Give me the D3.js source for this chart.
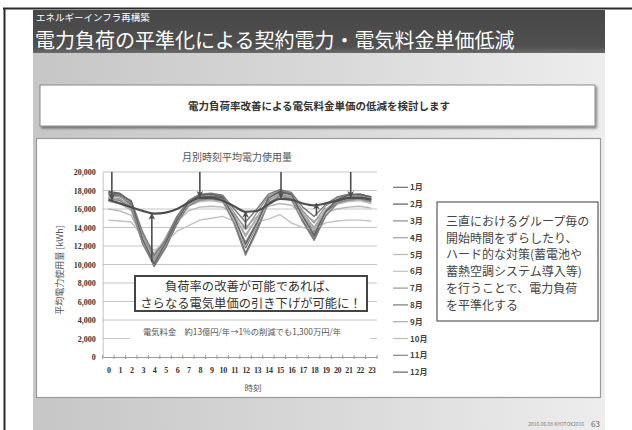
<!DOCTYPE html>
<html>
<head>
<meta charset="utf-8">
<script src="https://cdn.jsdelivr.net/npm/d3@7/dist/d3.min.js"></script>
<style>
  html, body { margin: 0; padding: 0; background: #fff; }
  svg { display: block; font-family: "Noto Sans CJK JP", "Noto Sans", sans-serif; }
</style>
</head>
<body>
<svg id="slide" width="632" height="430"></svg>
<script>
// Hours of the day (x categories)
const hours = d3.range(0, 24);
const hourLabels = hours.map(String);

// Month names for the legend
const months = ["1月","2月","3月","4月","5月","6月","7月","8月","9月","10月","11月","12月"];

// Average power use per hour [kWh], one array per month
const m01 = [17600,17400,16400,12300,10000,12200,14600,16600,17300,17400,17200,15000,11800,14200,17000,17700,17500,15200,13000,15600,16800,17200,17300,17000];
const m02 = [17800,17600,16600,12600, 9800,11800,14400,16500,17200,17300,17100,14600,11200,13800,16900,17800,17600,14800,12700,15400,16700,17300,17400,17100];
const m03 = [17300,17100,16200,12800,10400,12600,15000,16700,17100,17200,17000,14900,12400,14600,17100,17600,17300,15400,13500,15800,16900,17100,17200,16900];
const m04 = [16900,16700,15900,13000,10800,12900,15200,16500,16900,17000,16800,15300,13200,15000,17000,17500,17200,15600,14000,16000,16700,16900,17000,16700];
const m05 = [16000,15800,15300,12800,11200,12800,14600,15800,16200,16300,16200,15400,14000,15200,16300,16600,16400,15500,14700,15600,16000,16200,16300,16100];
const m06 = [14800,14700,14600,13000,11500,12400,13600,14200,14800,15000,15200,14700,13800,14600,14900,15400,14500,14000,13800,14500,14700,14800,14800,14700];
const m07 = [17500,17300,16700,13200,10600,12300,14900,16600,17400,17600,17400,15600,13800,15600,17400,18000,17700,15800,14500,16300,17200,17500,17500,17200];
const m08 = [17700,17500,16900,13500,11000,12600,15200,16900,17600,17700,17500,16000,14600,16000,17600,18100,17800,16200,15200,16500,17300,17600,17600,17300];
const m09 = [17200,17000,16300,12900,10300,12000,14800,16400,17100,17200,17000,15300,13000,15100,17100,17700,17400,15400,13800,15900,17000,17300,17300,17000];
const m10 = [16800,16600,15800,12400,10200,12100,14700,16300,16800,16900,16700,14800,12000,14300,16700,17200,16900,15000,13300,15500,16500,16800,16900,16600];
const m11 = [17100,16900,16100,12200, 9900,11900,14500,16300,17000,17100,16900,14400,11000,13600,16700,17400,17100,14600,12600,15200,16600,17000,17100,16800];
const m12 = [17900,17700,16800,12700,10100,12300,14800,16700,17500,17600,17300,15100,12200,14500,17200,17900,17600,15200,13200,15700,17000,17500,17600,17300];
const monthlySeries = [m01,m02,m03,m04,m05,m06,m07,m08,m09,m10,m11,m12];
const monthColors = ["#6c6c6c","#5a5a5a","#8c8c8c","#a2a2a2","#b6b6b6","#c2c2c2","#979797","#7a7a7a","#acacac","#bababa","#858585","#646464"];

// Levelled load profile (thick curve)
const levelled = [17000,16600,16200,15800,15500,15600,16000,16700,17200,17200,16900,16300,15700,15800,16500,17100,17000,16600,16400,16600,16900,17200,17200,17000];

// Peak-cut arrows (from top of scale down to the curve) and valley-fill arrows
const downArrowHours = [0.3, 8, 15.1, 21.2];
const downArrowFrom  = [20000, 20000, 20000, 20000];
const downArrowTo    = [17000, 17300, 17200, 17300];
const upArrowHours   = [3.8, 12, 18.2];
const upArrowFrom    = [10300, 13900, 15300];
const upArrowTo      = [15500, 15700, 16600];

// Y axis ticks
const yTicks = d3.range(0, 20001, 2000);

const svg = d3.select("#slide");
const defs = svg.append("defs");

// ---------- slide frame ----------
const bgGrad = defs.append("linearGradient").attr("id","bgGrad").attr("x1","0").attr("x2","1").attr("y1","0").attr("y2","0");
bgGrad.append("stop").attr("offset","0").attr("stop-color","#c6c6c6");
bgGrad.append("stop").attr("offset","0.55").attr("stop-color","#dadada");
bgGrad.append("stop").attr("offset","1").attr("stop-color","#ededed");
const barGrad = defs.append("linearGradient").attr("id","barGrad").attr("x1","0").attr("x2","0").attr("y1","0").attr("y2","1");
barGrad.append("stop").attr("offset","0").attr("stop-color","#474747");
barGrad.append("stop").attr("offset","0.85").attr("stop-color","#505050");
barGrad.append("stop").attr("offset","1").attr("stop-color","#6a6a6a");
const shadow = defs.append("filter").attr("id","shadow").attr("x","-5%").attr("y","-20%").attr("width","115%").attr("height","160%");
shadow.append("feDropShadow").attr("dx",1.5).attr("dy",2).attr("stdDeviation",1.2).attr("flood-color","#000").attr("flood-opacity",0.45);

svg.append("rect").attr("x",0).attr("y",0).attr("width",632).attr("height",430).attr("fill","#fff");
svg.append("rect").attr("x",33).attr("y",10).attr("width",572).attr("height",420).attr("fill","url(#bgGrad)");
svg.append("rect").attr("x",33).attr("y",10).attr("width",572).attr("height",43).attr("fill","url(#barGrad)");
svg.append("line").attr("x1",3).attr("x2",632).attr("y1",8.5).attr("y2",8.5).attr("stroke","#2a2a2a").attr("stroke-width",2);
svg.append("line").attr("x1",4.5).attr("x2",4.5).attr("y1",8).attr("y2",430).attr("stroke","#2a2a2a").attr("stroke-width",2);

svg.append("text").attr("x",36).attr("y",20.5).attr("fill","#fff").attr("font-size",9.5).text("エネルギーインフラ再構築");
svg.append("text").attr("x",35).attr("y",47.5).attr("fill","#fff").attr("font-size",20).text("電力負荷の平準化による契約電力・電気料金単価低減");

// headline box
svg.append("rect").attr("x",40).attr("y",85).attr("width",555).attr("height",41)
  .attr("fill","#fff").attr("stroke","#8a8a8a").attr("stroke-width",1).attr("filter","url(#shadow)");
svg.append("text").attr("x",319).attr("y",110).attr("text-anchor","middle").attr("fill","#333")
  .attr("font-size",10.5).attr("font-weight","bold").text("電力負荷率改善による電気料金単価の低減を検討します");

// chart panel
svg.append("rect").attr("x",36.5).attr("y",138.5).attr("width",564).attr("height",259)
  .attr("fill","#fff").attr("stroke","#9a9a9a").attr("stroke-width",1.2);

// footer
svg.append("text").attr("x",584).attr("y",426).attr("text-anchor","end").attr("fill","#7a7a7a")
  .attr("font-size",5).text("2016.06.08  KYOTOX2016");
svg.append("text").attr("x",600).attr("y",427).attr("text-anchor","end").attr("fill","#666")
  .attr("font-size",8).text("63");

// ---------- chart ----------
const x = d3.scaleLinear().domain([-0.5, 23.5]).range([102.7, 377]);
const y = d3.scaleLinear().domain([0, 20000]).range([357, 172]);

const chart = svg.append("g");

// gridlines
chart.append("g").selectAll("line").data(yTicks.filter(v => v > 0)).join("line")
  .attr("x1", x(-0.5)).attr("x2", x(23.5))
  .attr("y1", d => y(d)).attr("y2", d => y(d))
  .attr("stroke","#c6c6c6").attr("stroke-width",1);

// y axis
const yAxis = chart.append("g").attr("transform",`translate(${x(-0.5)},0)`)
  .call(d3.axisLeft(y).tickValues(yTicks).tickFormat(d3.format(",")).tickSize(0).tickPadding(7));
yAxis.select(".domain").attr("stroke","#c6c6c6");
yAxis.selectAll("text").attr("font-size",8).attr("font-weight","bold").attr("fill","#333")
  .attr("font-family","'Liberation Serif', serif");

// x axis
const xAxis = chart.append("g").attr("transform",`translate(0,${y(0)})`)
  .call(d3.axisBottom(x).tickValues(hours).tickFormat((d,i) => hourLabels[i]).tickSize(0).tickPadding(10));
xAxis.select(".domain").attr("stroke","#9a9a9a");
xAxis.selectAll("text").attr("font-size",8).attr("font-weight","bold").attr("fill","#333")
  .attr("font-family","'Liberation Serif', serif").attr("letter-spacing",-0.4);
chart.append("g").selectAll("line").data(d3.range(-0.5, 24, 1)).join("line")
  .attr("x1", d => x(d)).attr("x2", d => x(d))
  .attr("y1", y(0) - 2).attr("y2", y(0) + 2)
  .attr("stroke","#9a9a9a").attr("stroke-width",1);

// monthly lines
const line = d3.line().x((d,i) => x(hours[i])).y(d => y(d));
chart.append("g").selectAll("path").data(monthlySeries).join("path")
  .attr("d", line).attr("fill","none")
  .attr("stroke", (d,i) => monthColors[i]).attr("stroke-width",1.4).attr("stroke-linejoin","round");

// levelled curve
chart.append("path").datum(levelled)
  .attr("d", d3.line().x((d,i) => x(hours[i])).y(d => y(d)).curve(d3.curveMonotoneX))
  .attr("fill","none").attr("stroke","#4e4e4e").attr("stroke-width",2.2);

// arrows
defs.append("marker").attr("id","head").attr("viewBox","0 0 10 10").attr("refX",9).attr("refY",5)
  .attr("markerWidth",4.2).attr("markerHeight",4.2).attr("orient","auto").attr("markerUnits","strokeWidth")
  .append("path").attr("d","M0,0 L10,5 L0,10 L3,5 Z").attr("fill","#4e4e4e");
const arrowG = chart.append("g").attr("stroke","#4e4e4e").attr("stroke-width",1.6).attr("marker-end","url(#head)");
arrowG.selectAll("line.down").data(downArrowHours).join("line").attr("class","down")
  .attr("x1", d => x(d)).attr("x2", d => x(d))
  .attr("y1", (d,i) => y(downArrowFrom[i])).attr("y2", (d,i) => y(downArrowTo[i]));
arrowG.selectAll("line.up").data(upArrowHours).join("line").attr("class","up")
  .attr("x1", d => x(d)).attr("x2", d => x(d))
  .attr("y1", (d,i) => y(upArrowFrom[i])).attr("y2", (d,i) => y(upArrowTo[i]));

// titles
chart.append("text").attr("x",237).attr("y",161).attr("text-anchor","middle").attr("fill","#555")
  .attr("font-size",10).text("月別時刻平均電力使用量");
chart.append("text").attr("x",253).attr("y",391).attr("text-anchor","middle").attr("fill","#555")
  .attr("font-size",8.5).text("時刻");
chart.append("text").attr("transform","translate(63,270) rotate(-90)").attr("text-anchor","middle")
  .attr("fill","#555").attr("font-size",9).text("平均電力使用量 [kWh]");

// legend
const legend = chart.append("g").selectAll("g").data(months).join("g")
  .attr("transform", (d,i) => `translate(393,${187.3 + i * 16.8})`);
legend.append("line").attr("x1",0).attr("x2",15).attr("y1",0).attr("y2",0)
  .attr("stroke", (d,i) => monthColors[i]).attr("stroke-width",1.2);
legend.append("text").attr("x",17).attr("y",3).attr("font-size",8).attr("font-weight","bold")
  .attr("fill","#444").text(d => d);

// callout
chart.append("rect").attr("x",135).attr("y",276).attr("width",232).attr("height",35)
  .attr("fill","#fff").attr("stroke","#444").attr("stroke-width",2);
chart.append("text").attr("x",251).attr("y",291).attr("text-anchor","middle").attr("fill","#333")
  .attr("font-size",12.3).text("負荷率の改善が可能であれば、");
chart.append("text").attr("x",251).attr("y",307.5).attr("text-anchor","middle").attr("fill","#333")
  .attr("font-size",12.3).text("さらなる電気単価の引き下げが可能に！");

// cost note
chart.append("rect").attr("x",130).attr("y",324).attr("width",240).attr("height",15).attr("fill","#fff");
chart.append("text").attr("x",143).attr("y",334.5).attr("fill","#555").attr("font-size",8.3)
  .text("電気料金　約13億円/年→1%の削減でも1,300万円/年");

// side note box
svg.append("rect").attr("x",437).attr("y",202).attr("width",161).attr("height",119)
  .attr("fill","#fff").attr("stroke","#666").attr("stroke-width",1.3);
const noteLines = ["三直におけるグループ毎の","開始時間をずらしたり、","ハード的な対策(蓄電池や","蓄熱空調システム導入等)","を行うことで、電力負荷","を平準化する"];
svg.append("g").selectAll("text").data(noteLines).join("text")
  .attr("x",446).attr("y",(d,i) => 226 + i * 16.7).attr("fill","#444").attr("font-size",12).text(d => d);
</script>
</body>
</html>
